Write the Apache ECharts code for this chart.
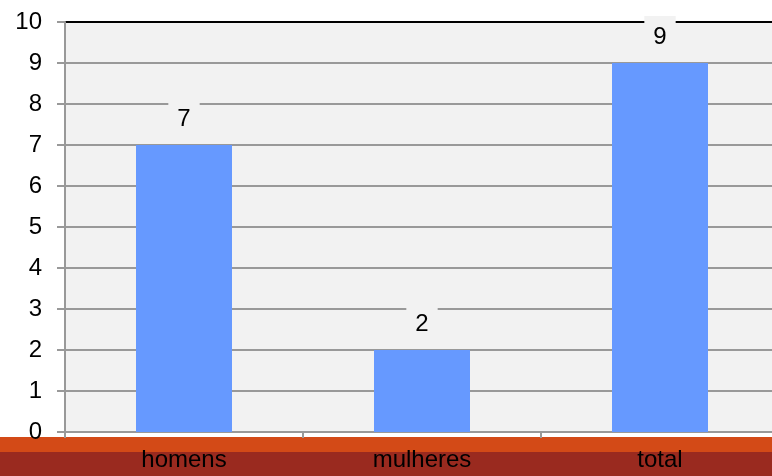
<!DOCTYPE html>
<html>
<head>
<meta charset="utf-8">
<script src="https://cdn.jsdelivr.net/npm/echarts@6/dist/echarts.min.js"></script>
<style>
  html, body { margin: 0; padding: 0; background: #fff; }
  #chart { width: 772px; height: 476px; }
</style>
</head>
<body>
<div id="chart"></div>
<script>
const categories = ['homens', 'mulheres', 'total']
const values = [7, 2, 9]
const yTicks = [0, 1, 2, 3, 4, 5, 6, 7, 8, 9, 10]

const gridColor = '#999999'
const font = 'Liberation Sans, Arial, sans-serif'
// ultima linha (10) preta, como borda superior
const splitColors = yTicks.map((t, i) => (i === yTicks.length - 1 ? '#000000' : gridColor))

const chart = echarts.init(document.getElementById('chart'), null, { renderer: 'canvas' })

chart.setOption({
  animation: false,
  backgroundColor: '#ffffff',
  textStyle: { fontFamily: font },
  grid: {
    show: true,
    left: 65,
    width: 714,
    top: 22,
    bottom: 44,
    outerBoundsMode: 'none',
    backgroundColor: '#f2f2f2',
    borderWidth: 0
  },
  graphic: [
    {
      type: 'rect',
      left: 0,
      top: 437,
      z: 0,
      shape: { width: 772, height: 15 },
      style: { fill: '#d34a17' }
    },
    {
      type: 'rect',
      left: 0,
      top: 452,
      z: 0,
      shape: { width: 772, height: 24 },
      style: { fill: '#9a2a1f' }
    }
  ],
  xAxis: {
    type: 'category',
    data: categories,
    axisLine: { lineStyle: { color: gridColor, width: 2 } },
    axisTick: { show: true, length: 6, lineStyle: { color: gridColor, width: 2 } },
    axisLabel: { fontSize: 24, fontFamily: font, color: '#000', margin: 16 }
  },
  yAxis: {
    type: 'value',
    min: yTicks[0],
    max: yTicks[yTicks.length - 1],
    interval: 1,
    axisLine: { show: true, lineStyle: { color: gridColor, width: 2 } },
    axisTick: { show: true, length: 8, lineStyle: { color: gridColor, width: 2 } },
    axisLabel: { fontSize: 24, fontFamily: font, color: '#000', margin: 23 },
    splitLine: { lineStyle: { color: splitColors, width: 2 } }
  },
  series: [{
    type: 'bar',
    data: values,
    barWidth: 96,
    itemStyle: { color: '#6699ff' },
    label: {
      show: true,
      position: 'top',
      distance: 5,
      fontSize: 24,
      fontFamily: font,
      color: '#000',
      backgroundColor: '#f2f2f2',
      padding: [9, 9]
    }
  }]
})
</script>
</body>
</html>
